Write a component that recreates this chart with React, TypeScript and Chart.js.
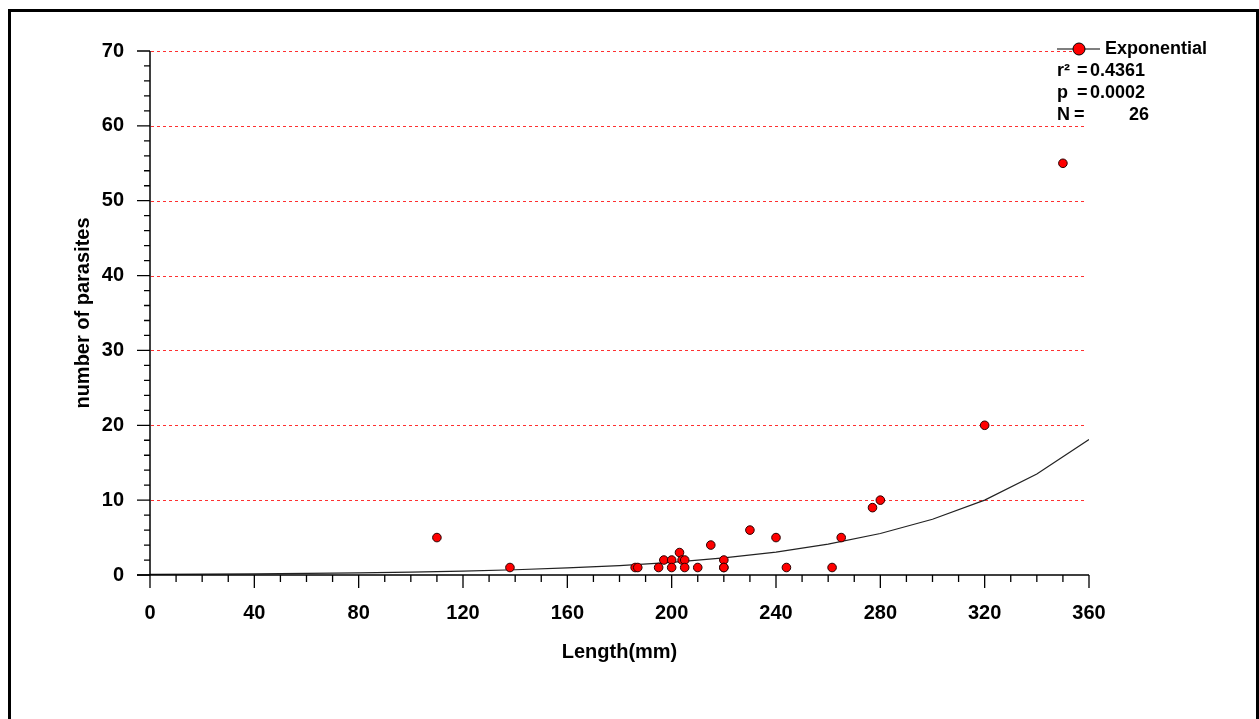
import React, { useEffect, useRef } from "react";
import { Chart, registerables } from "chart.js";

Chart.register(...registerables);

const lengthMm = [110, 138, 186, 187, 195, 197, 200, 200, 203, 204, 205, 205, 210, 215, 220, 220, 220, 230, 240, 244, 261.5, 265, 277, 280, 320, 350];
const parasites = [5, 1, 1, 1, 1, 2, 2, 1, 3, 2, 2, 1, 1, 4, 2, 1, 1, 6, 5, 1, 1, 5, 9, 10, 20, 55];

// Exponential fit curve
const fitLength = [0, 20, 40, 60, 80, 100, 120, 140, 160, 180, 200, 220, 240, 260, 280, 300, 320, 340, 360];
const fitParasites = [0.09, 0.12, 0.16, 0.21, 0.29, 0.39, 0.52, 0.7, 0.94, 1.26, 1.69, 2.28, 3.06, 4.12, 5.54, 7.45, 10.0, 13.5, 18.1];

// Tick labels
const xTickLabels = [0, 40, 80, 120, 160, 200, 240, 280, 320, 360];
const yTickLabels = [0, 10, 20, 30, 40, 50, 60, 70];

// Legend / statistics text
const legendLabel = "Exponential";
const statNames = ["r\u00B2", "p", "N"];
const statValues = ["0.4361", "0.0002", "26"];

const FONT = "'Liberation Sans', Arial, sans-serif";

const decorPlugin = {
  id: "decor",
  beforeDraw(chart: any) {
    const { ctx, width, height } = chart;
    ctx.save();
    ctx.fillStyle = "#fff";
    ctx.fillRect(0, 0, width, height);
    // page frame
    ctx.strokeStyle = "#000";
    ctx.lineWidth = 3;
    ctx.beginPath();
    ctx.moveTo(9.5, height + 2);
    ctx.lineTo(9.5, 10.5);
    ctx.lineTo(1257.5, 10.5);
    ctx.lineTo(1257.5, height + 2);
    ctx.stroke();
    ctx.restore();
  },
  beforeDatasetsDraw(chart: any) {
    const { ctx, chartArea } = chart;
    const ys = chart.scales.y;
    ctx.save();
    ctx.strokeStyle = "#ff3030";
    ctx.lineWidth = 1;
    ctx.setLineDash([3, 3]);
    yTickLabels.forEach((v) => {
      if (v === 0) return;
      const py = Math.round(ys.getPixelForValue(v)) + 0.5;
      ctx.beginPath();
      ctx.moveTo(chartArea.left + 1, py);
      ctx.lineTo(chartArea.right - 3, py);
      ctx.stroke();
    });
    ctx.restore();
  },
  afterDraw(chart: any) {
    const { ctx, chartArea } = chart;
    const xs = chart.scales.x;
    const ys = chart.scales.y;
    ctx.save();
    ctx.strokeStyle = "#000";
    ctx.lineWidth = 1.5;
    const left = chartArea.left;
    const bottom = ys.getPixelForValue(0);
    const top = ys.getPixelForValue(70);
    const right = xs.getPixelForValue(360);
    ctx.beginPath();
    ctx.moveTo(left, top);
    ctx.lineTo(left, bottom);
    ctx.moveTo(left - 13, bottom);
    ctx.lineTo(right, bottom);
    ctx.stroke();
    ctx.lineWidth = 1.3;
    ctx.beginPath();
    ys.ticks.forEach((t: any) => {
      const py = ys.getPixelForValue(t.value);
      const len = yTickLabels.includes(t.value) ? 13 : 6;
      ctx.moveTo(left - len, py);
      ctx.lineTo(left, py);
    });
    xs.ticks.forEach((t: any) => {
      const px = xs.getPixelForValue(t.value);
      const len = xTickLabels.includes(t.value) ? 13 : 7;
      ctx.moveTo(px, bottom);
      ctx.lineTo(px, bottom + len);
    });
    ctx.stroke();

    // legend
    const lx = chartArea.right - 32;
    const ly = 49;
    ctx.strokeStyle = "#000";
    ctx.lineWidth = 1.2;
    ctx.beginPath();
    ctx.moveTo(lx, ly);
    ctx.lineTo(lx + 43, ly);
    ctx.stroke();
    ctx.beginPath();
    ctx.arc(lx + 22, ly, 6, 0, Math.PI * 2);
    ctx.fillStyle = "#ff0000";
    ctx.fill();
    ctx.lineWidth = 1;
    ctx.strokeStyle = "#000";
    ctx.stroke();
    ctx.fillStyle = "#000";
    ctx.font = `bold 18px ${FONT}`;
    ctx.textBaseline = "middle";
    ctx.textAlign = "left";
    ctx.fillText(legendLabel, lx + 48, ly);
    statNames.forEach((name, i) => {
      const yy = ly + 22 * (i + 1);
      ctx.textAlign = "left";
      ctx.fillText(name, lx, yy);
      ctx.fillText("=", name === "N" ? lx + 17 : lx + 20, yy);
      if (name === "N") {
        ctx.textAlign = "right";
        ctx.fillText(statValues[i], lx + 92, yy);
      } else {
        ctx.fillText(statValues[i], lx + 33, yy);
      }
    });
    ctx.restore();
  },
};

export default function App() {
  const canvasRef = useRef<HTMLCanvasElement | null>(null);

  useEffect(() => {
    document.body.style.overflow = "hidden";
    const canvas = canvasRef.current;
    if (!canvas) return;
    const chart = new Chart(canvas, {
      type: "scatter",
      data: {
        datasets: [
          {
            label: legendLabel,
            data: lengthMm.map((x, i) => ({ x, y: parasites[i] })),
            backgroundColor: "#ff0000",
            borderColor: "#2a0000",
            borderWidth: 1,
            pointRadius: 4.3,
            showLine: false,
            order: 0,
          },
          {
            label: "fit",
            data: fitLength.map((x, i) => ({ x, y: fitParasites[i] })),
            showLine: true,
            borderColor: "#222",
            borderWidth: 1.2,
            pointRadius: 0,
            tension: 0,
            order: 1,
          },
        ],
      },
      options: {
        responsive: false,
        animation: false,
        layout: { padding: { left: 0, top: 51, right: 170, bottom: 0 } },
        plugins: {
          legend: { display: false },
          tooltip: { enabled: false },
        },
        scales: {
          x: {
            type: "linear",
            min: 0,
            max: 360,
            afterFit(s: any) {
              s.height = 144;
              s.paddingLeft = 0;
              s.paddingRight = 0;
            },
            grid: { display: false, drawTicks: false },
            border: { display: false },
            ticks: {
              stepSize: 10,
              autoSkip: false,
              maxRotation: 0,
              padding: 26,
              color: "#000",
              font: { family: FONT, size: 20, weight: "bold" },
              callback: (v: any) => (xTickLabels.includes(Number(v)) ? String(v) : ""),
            },
            title: {
              display: true,
              text: "Length(mm)",
              color: "#000",
              font: { family: FONT, size: 20, weight: "bold" },
              padding: { top: 0, bottom: 55 },
            },
          },
          y: {
            type: "linear",
            min: 0,
            max: 70,
            afterFit(s: any) {
              s.width = 150;
              s.paddingTop = 0;
              s.paddingBottom = 0;
            },
            grid: { display: false, drawTicks: false },
            border: { display: false },
            ticks: {
              stepSize: 2,
              autoSkip: false,
              padding: 26,
              color: "#000",
              font: { family: FONT, size: 20, weight: "bold" },
              callback: (v: any) => (yTickLabels.includes(Number(v)) ? String(v) : ""),
            },
            title: {
              display: true,
              text: "number of parasites",
              color: "#000",
              font: { family: FONT, size: 20, weight: "bold" },
              padding: { top: 71, bottom: 0 },
            },
          },
        },
      },
      plugins: [decorPlugin],
    } as any);
    return () => chart.destroy();
  }, []);

  return (
    <div style={{ position: "fixed", left: 0, top: 0, width: 1259, height: 719 }}>
      <canvas ref={canvasRef} width={1259} height={719} style={{ display: "block" }} />
    </div>
  );
}
